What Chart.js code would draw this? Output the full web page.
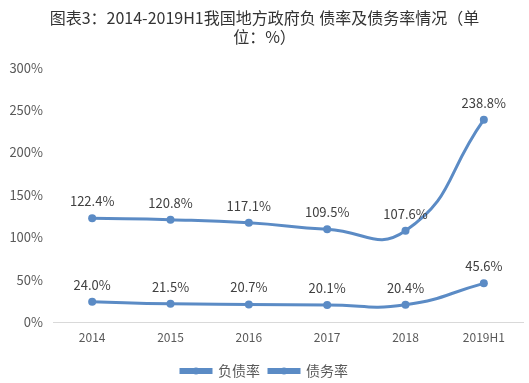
<!DOCTYPE html>
<html><head><meta charset="utf-8">
<script src="https://cdn.jsdelivr.net/npm/chart.js@4"></script>
<style>html,body{margin:0;padding:0;background:#fff}#wrap{width:529px;height:383px}</style>
</head><body><div id="wrap"><canvas id="c" width="529" height="383"></canvas></div>
<script>
const categories = ["2014","2015","2016","2017","2018","2019H1"];
const debtRatio = [24.0, 21.5, 20.7, 20.1, 20.4, 45.6];      // 负债率
const liabilityRatio = [122.4, 120.8, 117.1, 109.5, 107.6, 238.8]; // 债务率
const seriesNames = ["负债率", "债务率"];
const yTicks = [0, 50, 100, 150, 200, 250, 300];
const titleLines = ["图表3：2014-2019H1我国地方政府负 债率及债务率情况（单", "位：%）"];

const COLOR = "#5b8bc5";
const FONT = "'Noto Sans CJK SC', 'Noto Sans', sans-serif";

const labelPlugin = {
  id: 'valueLabels',
  afterDatasetsDraw(chart) {
    const ctx = chart.ctx;
    ctx.save();
    ctx.font = "13px " + FONT;
    ctx.fillStyle = "#404040";
    ctx.textAlign = "center";
    ctx.textBaseline = "middle";
    chart.data.datasets.forEach((ds, i) => {
      chart.getDatasetMeta(i).data.forEach((pt, j) => {
        ctx.fillText(ds.data[j].toFixed(1) + "%", pt.x, pt.y - 17);
      });
    });
    ctx.restore();
  }
};
const legendDots = {
  id: 'legendDots',
  afterDraw(chart) {
    const lg = chart.legend;
    if (!lg || !lg.legendHitBoxes) return;
    const ctx = chart.ctx;
    ctx.save();
    ctx.fillStyle = COLOR;
    lg.legendHitBoxes.forEach(b => {
      const bw = lg.options.labels.boxWidth;
      ctx.beginPath();
      ctx.arc(b.left + bw / 2, b.top + b.height / 2, 3.5, 0, Math.PI * 2);
      ctx.fill();
    });
    ctx.restore();
  }
};

new Chart(document.getElementById('c'), {
  type: 'line',
  data: {
    labels: categories,
    datasets: [
      { label: seriesNames[0], data: debtRatio, borderColor: COLOR, backgroundColor: COLOR,
        borderWidth: 3, pointRadius: 4, pointBackgroundColor: COLOR, pointBorderWidth: 0, tension: 0.5 },
      { label: seriesNames[1], data: liabilityRatio, borderColor: COLOR, backgroundColor: COLOR,
        borderWidth: 3, pointRadius: 4, pointBackgroundColor: COLOR, pointBorderWidth: 0, tension: 0.5 }
    ]
  },
  options: {
    responsive: false,
    animation: false,
    devicePixelRatio: 1,
    layout: { padding: { left: 6, right: 6, top: 5, bottom: -5 } },
    plugins: {
      title: { display: true, text: titleLines, color: "#333", font: { family: FONT, size: 16, weight: 'normal', lineHeight: 1.15 }, padding: { top: 4, bottom: 22 } },
      legend: { position: 'bottom', labels: { boxWidth: 30, boxHeight: 3, color: "#595959", font: { family: FONT, size: 14 }, padding: 9 } },
      tooltip: { enabled: false }
    },
    scales: {
      x: { offset: true, grid: { display: false, drawTicks: false }, border: { display: true, color: "#d9d9d9" },
           afterFit: s => { s.height = 33; },
           ticks: { color: "#595959", font: { family: FONT, size: 12 }, padding: 8 } },
      y: { min: 0, max: 300, grid: { display: false, drawTicks: false }, border: { display: false },
           afterBuildTicks: s => { s.ticks = yTicks.map(v => ({ value: v })); },
           afterFit: s => { s.width = 47; },
           ticks: { color: "#595959", font: { family: FONT, size: 13 }, padding: 10, callback: v => v + "%" } }
    }
  },
  plugins: [labelPlugin, legendDots]
});
</script></body></html>
